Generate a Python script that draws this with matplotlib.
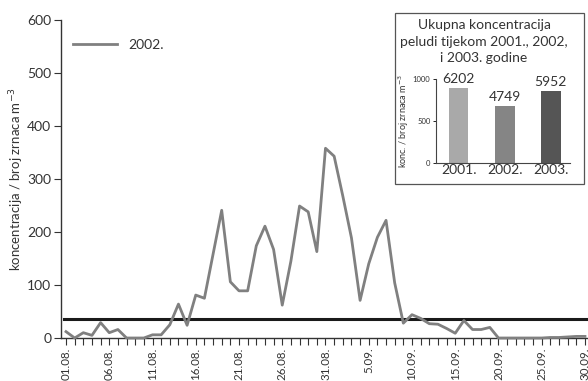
import numpy as np
import matplotlib.pyplot as plt
from matplotlib.patches import Rectangle

plt.rcParams['font.family'] = ['Lato', 'DejaVu Sans']

# daily pollen concentration, 01.08. - 30.09.2002.
days = [f"{d:02d}.08." for d in range(1, 32)] + [f"{d}.09." if d < 10 else f"{d:02d}.09." for d in range(1, 31)]
conc_2002 = [12, 0, 10, 5, 29, 10, 16, 0, 0, 0,
             6, 6, 25, 64, 24, 81, 75, 158, 241, 106,
             89, 89, 174, 211, 167, 62, 145, 249, 238, 163,
             358, 343, 268, 189, 71, 140, 190, 222, 104, 28,
             44, 37, 27, 26, 18, 9, 33, 16, 16, 20,
             0, 0, 0, 0, 0, 0, 1, 1, 2, 3, 3]
threshold = 36

# inset: yearly totals
years = ["2001.", "2002.", "2003."]
totals = [6202, 4749, 5952]
bar_heights = [893, 679, 857]
bar_colors = ["#a9a9a9", "#858585", "#555555"]

TXT = "#333333"

fig = plt.figure(figsize=(5.88, 3.81), dpi=100)
ax = fig.add_axes([61 / 588, 1 - 338 / 381, 527 / 588, 318 / 381])

x = np.arange(len(conc_2002))
ax.plot(x, conc_2002, color="#808080", lw=2.0, label="2002.", clip_on=False, zorder=3)
ax.axhline(threshold, xmin=0.005, color="#1a1a1a", lw=2.2, zorder=2)

ax.set_xlim(-0.58, 60.35)
ax.set_ylim(0, 600)
ax.set_yticks(range(0, 601, 100))
ax.set_xticks(x, minor=True)
ax.set_xticks(x[::5])
ax.set_xticklabels(days[::5], rotation=90)
ax.tick_params(axis="x", which="both", length=5, width=0.8, color="#333", labelsize=8.3,
               labelcolor=TXT, pad=2)
ax.tick_params(axis="y", length=5, width=0.8, color="#333", labelsize=10, labelcolor=TXT, pad=2)
for s in ["top", "right"]:
    ax.spines[s].set_visible(False)
for s in ["left", "bottom"]:
    ax.spines[s].set_color("#333")
    ax.spines[s].set_linewidth(1.0)
ax.set_ylabel("koncentracija / broj zrnaca m$^{-3}$", fontsize=9.5, color=TXT, labelpad=1)

ax.legend(loc="upper left", bbox_to_anchor=(0.0228, 0.94), frameon=False, borderpad=0,
          borderaxespad=0, handlelength=3.2, handletextpad=0.8, fontsize=10,
          labelcolor=TXT)

# inset box
fig.patches.append(Rectangle((395 / 588, 1 - 184 / 381), 189 / 588, 171 / 381,
                             transform=fig.transFigure, fill=False, ec="#555", lw=0.9))
fig.text(484 / 588, 1 - 25 / 381, "Ukupna koncentracija", ha="center", va="center",
         fontsize=10, color=TXT)
fig.text(484 / 588, 1 - 42 / 381, "peludi tijekom 2001., 2002,", ha="center", va="center",
         fontsize=10, color=TXT)
fig.text(484 / 588, 1 - 58 / 381, "i 2003. godine", ha="center", va="center",
         fontsize=10, color=TXT)

ins = fig.add_axes([436 / 588, 1 - 163 / 381, 134 / 588, 84 / 381])
bx = np.arange(len(years))
ins.bar(bx, bar_heights, width=0.43, color=bar_colors)
for xi, h, t in zip(bx, bar_heights, totals):
    ins.text(xi, h + 40, str(t), ha="center", va="bottom", fontsize=10, color=TXT)
ins.set_xlim(-0.49, 2.42)
ins.set_ylim(0, 1000)
ins.set_yticks([0, 500, 1000])
ins.set_xticks(bx)
ins.set_xticklabels(years)
ins.tick_params(axis="x", length=0, labelsize=10, labelcolor=TXT, pad=1)
ins.tick_params(axis="y", length=2, width=0.6, labelsize=5.5, labelcolor=TXT, pad=2)
for s in ["top", "right"]:
    ins.spines[s].set_visible(False)
for s in ["left", "bottom"]:
    ins.spines[s].set_color("#444")
    ins.spines[s].set_linewidth(0.8)
ins.set_ylabel("konc. / broj zrnaca m$^{-3}$", fontsize=6.5, color=TXT, labelpad=1)

fig.savefig("out.png", dpi=100)
